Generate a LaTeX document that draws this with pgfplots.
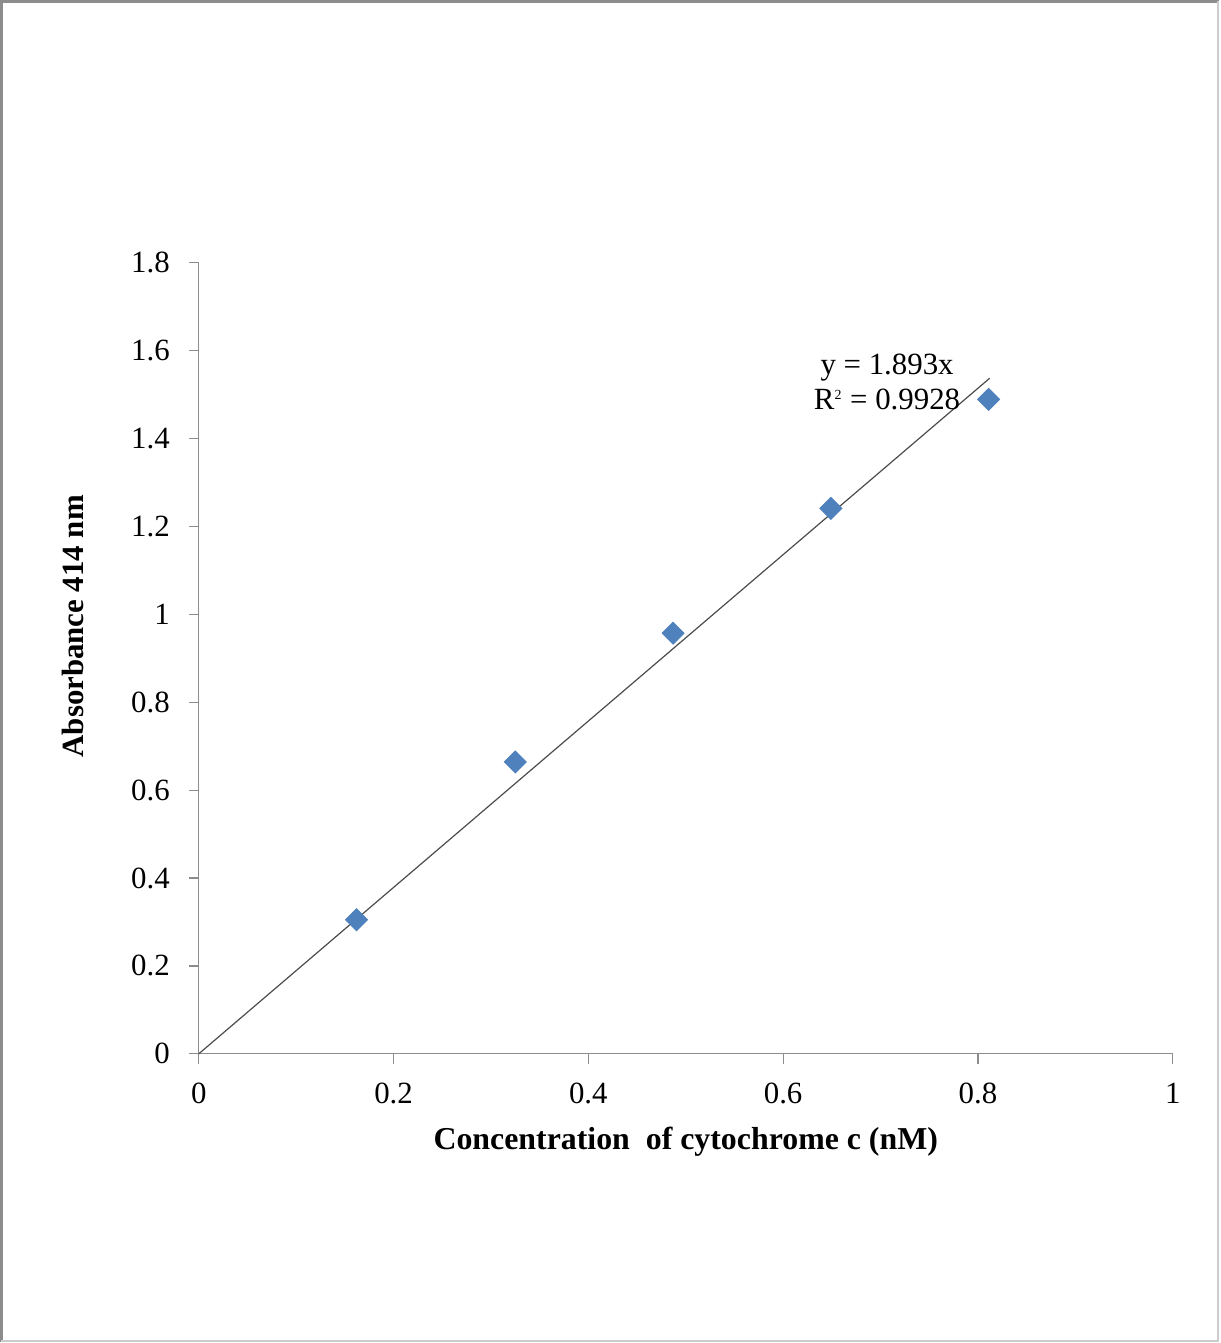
\documentclass[border=0pt]{standalone}
\usepackage{pgfplots}
\pgfplotsset{compat=1.18}
\usepackage{fontspec}
\setmainfont{Liberation Serif}
\definecolor{markblue}{HTML}{4F81BD}
\definecolor{axgray}{HTML}{8C8C8C}
\begin{document}
\begin{tikzpicture}[x=1bp,y=1bp]
\fill[white] (0,0) rectangle (610,671.5);
\begin{axis}[
  at={(99.5bp,144bp)}, anchor=south west,
  scale only axis, width=487.5bp, height=396bp,
  xmin=0, xmax=1, ymin=0, ymax=1.8,
  xtick={0,0.2,...,1}, ytick={0,0.2,...,1.8},
  axis x line*=bottom, axis y line*=left,
  axis line style={draw=axgray, line width=0.6bp, -},
  tick style={draw=axgray, line width=0.6bp},
  tick align=outside, major tick length=5bp,
  font=\fontsize{15.5}{18}\selectfont,
  /pgf/number format/assume math mode=true,
  /pgf/number format/fixed,
  xticklabel style={yshift=-6bp},
  yticklabel style={xshift=-6bp},
  xlabel={\bfseries Concentration\ \ of cytochrome c (nM)},
  ylabel={\bfseries Absorbance 414 nm},
  xlabel style={font=\fontsize{16}{18}\selectfont, yshift=-5bp},
  ylabel style={font=\fontsize{15.5}{18}\selectfont, yshift=17bp, xshift=16bp},
  clip=false,
]
\addplot[draw=black!70, line width=0.6bp, no marks] coordinates {(0,0) (0.812,1.537)};
\addplot[only marks, mark=square*, mark size=3.9bp, mark options={fill=markblue, draw=markblue, rotate=45}]
  coordinates {(0.162,0.305) (0.325,0.664) (0.487,0.957) (0.649,1.241) (0.811,1.489)};
\node[font=\fontsize{15.5}{18}\selectfont, align=center] at (axis cs:0.7067,1.562) {y = 1.893x};
\node[font=\fontsize{15.5}{18}\selectfont] at (axis cs:0.7067,1.489) {R\textsuperscript{\scriptsize 2} = 0.9928};
\end{axis}
\draw[gray!90, line width=1.5bp] (0.75,0) -- (0.75,670.75) -- (610,670.75);
\draw[gray!40, line width=1bp] (609.5,670.75) -- (609.5,0.5) -- (0.75,0.5);
\end{tikzpicture}
\end{document}
